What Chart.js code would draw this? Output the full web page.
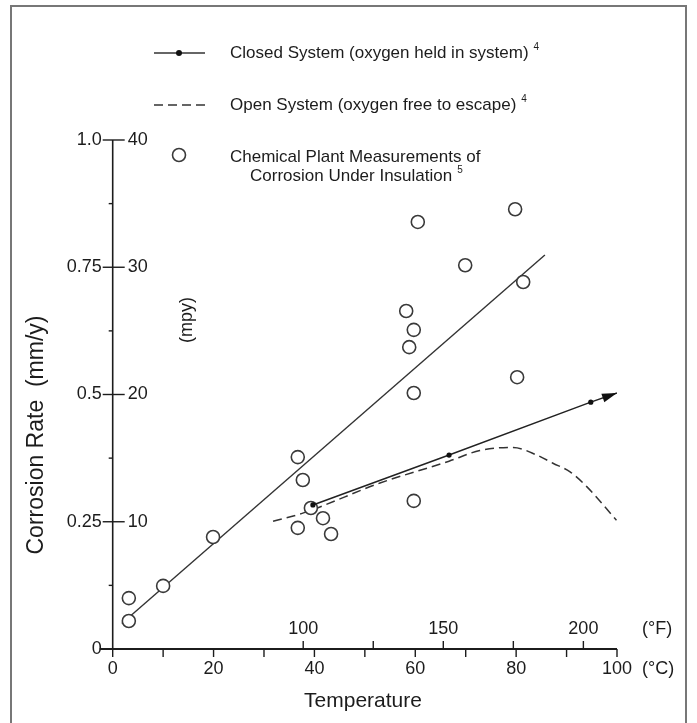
<!DOCTYPE html>
<html>
<head>
<meta charset="utf-8">
<script src="https://cdn.jsdelivr.net/npm/chart.js@4.4.1/dist/chart.umd.min.js"></script>
<style>
  html, body { margin: 0; padding: 0; background: #fff; }
  canvas { display: block; }
</style>
</head>
<body>
<canvas id="corrosionChart" width="697" height="723"></canvas>
<script>
// Chemical plant measurements of corrosion under insulation (°C, mm/y)
const plantTemp = [3.2, 3.2, 10.0, 19.9, 36.7, 37.7, 39.3, 36.7, 41.7, 43.3, 60.5, 58.2, 59.7, 58.8, 59.7, 59.7, 69.9, 79.8, 81.4, 80.2];
const plantRate = [0.100, 0.055, 0.124, 0.220, 0.377, 0.332, 0.277, 0.238, 0.257, 0.226, 0.839, 0.664, 0.627, 0.593, 0.503, 0.291, 0.754, 0.864, 0.721, 0.534];

// straight line through the plant data
const fitTemp = [1.8, 85.7];
const fitRate = [0.050, 0.774];

// closed system (oxygen held in system)
const closedTemp = [39.7, 66.7, 94.8, 100];
const closedRate = [0.283, 0.381, 0.485, 0.503];

// open system (oxygen free to escape)
const openTemp = [31.8, 37.7, 53.0, 66.7, 72.8, 79.4, 84.1, 87.3, 90.7, 94.0, 97.0, 99.9];
const openRate = [0.251, 0.267, 0.326, 0.369, 0.390, 0.396, 0.381, 0.365, 0.348, 0.319, 0.286, 0.253];

// tick labels
const mmyTicks = ['0', '0.25', '0.5', '0.75', '1.0'];
const mpyTicks = ['', '10', '20', '30', '40'];
const celsiusTicks = ['0', '20', '40', '60', '80', '100'];
const fahrenheitTicks = [100, 150, 200];

const FONT = "'Liberation Sans', Arial, Helvetica, sans-serif";
const INK = '#1c1c1c';
const toPts = (xs, ys) => xs.map((x, i) => ({ x: x, y: ys[i] }));
const fToC = f => (f - 32) * 5 / 9;

const decor = {
    id: 'decor',
    beforeDraw(chart) {
        const ctx = chart.ctx;
        ctx.save();
        ctx.fillStyle = '#fff';
        ctx.fillRect(0, 0, chart.width, chart.height);
        ctx.restore();
    },
    afterDraw(chart) {
        const ctx = chart.ctx;
        const xs = chart.scales.x, ys = chart.scales.y;
        const ax = xs.getPixelForValue(0);
        const ay = ys.getPixelForValue(0);
        ctx.save();

        // outer frame
        ctx.strokeStyle = '#777';
        ctx.lineWidth = 2;
        ctx.beginPath();
        ctx.moveTo(11, 740); ctx.lineTo(11, 6); ctx.lineTo(686, 6); ctx.lineTo(686, 740);
        ctx.stroke();

        // axes
        ctx.strokeStyle = INK;
        ctx.lineWidth = 1.6;
        ctx.beginPath();
        ctx.moveTo(ax, ys.getPixelForValue(1)); ctx.lineTo(ax, ay);
        ctx.stroke();
        ctx.lineWidth = 2.2;
        ctx.beginPath();
        ctx.moveTo(ax - 13, ay); ctx.lineTo(xs.getPixelForValue(100), ay);
        ctx.stroke();

        // y ticks
        ctx.lineWidth = 1.4;
        for (let i = 1; i < mmyTicks.length; i++) {
            const y = ys.getPixelForValue(i * 0.25);
            ctx.beginPath(); ctx.moveTo(ax - 10, y); ctx.lineTo(ax + 12, y); ctx.stroke();
        }
        for (let i = 0; i < 4; i++) {
            const y = ys.getPixelForValue(0.125 + i * 0.25);
            ctx.beginPath(); ctx.moveTo(ax - 4, y); ctx.lineTo(ax, y); ctx.stroke();
        }
        // x ticks (°C below, °F above)
        for (let c = 0; c <= 100; c += 10) {
            const x = xs.getPixelForValue(c);
            ctx.beginPath(); ctx.moveTo(x, ay); ctx.lineTo(x, ay + 8); ctx.stroke();
        }
        for (let f = 100; f <= 200; f += 25) {
            const x = xs.getPixelForValue(fToC(f));
            ctx.beginPath(); ctx.moveTo(x, ay); ctx.lineTo(x, ay - 8); ctx.stroke();
        }

        // mpy labels inside the axis
        ctx.fillStyle = INK;
        ctx.font = '18px ' + FONT;
        ctx.textBaseline = 'middle';
        ctx.textAlign = 'left';
        mpyTicks.forEach((t, i) => { if (t) ctx.fillText(t, ax + 15, ys.getPixelForValue(i * 0.25)); });

        // °F labels
        ctx.textAlign = 'center';
        fahrenheitTicks.forEach(f => ctx.fillText(String(f), xs.getPixelForValue(fToC(f)), ay - 20));
        ctx.textAlign = 'left';
        ctx.fillText('(°F)', 642, ay - 20);
        ctx.fillText('(°C)', 642, ay + 20);

        // axis titles
        ctx.font = '21px ' + FONT;
        ctx.textAlign = 'center';
        ctx.fillText('Temperature', 363, 701);
        ctx.save();
        ctx.translate(37, 435);
        ctx.rotate(-Math.PI / 2);
        ctx.font = '23px ' + FONT;
        ctx.fillText('Corrosion Rate  (mm/y)', 0, 0);
        ctx.restore();
        ctx.save();
        ctx.translate(187, 320);
        ctx.rotate(-Math.PI / 2);
        ctx.font = '18px ' + FONT;
        ctx.fillText('(mpy)', 0, 0);
        ctx.restore();

        // arrowhead on closed system line
        const pts = chart.getDatasetMeta(1).data;
        const tip = pts[pts.length - 1], prev = pts[pts.length - 2];
        const ang = Math.atan2(tip.y - prev.y, tip.x - prev.x);
        ctx.fillStyle = '#111';
        ctx.beginPath();
        ctx.moveTo(tip.x, tip.y);
        ctx.lineTo(tip.x - 15 * Math.cos(ang) + 4.5 * Math.sin(ang), tip.y - 15 * Math.sin(ang) - 4.5 * Math.cos(ang));
        ctx.lineTo(tip.x - 15 * Math.cos(ang) - 4.5 * Math.sin(ang), tip.y - 15 * Math.sin(ang) + 4.5 * Math.cos(ang));
        ctx.closePath();
        ctx.fill();

        // legend
        ctx.strokeStyle = '#333';
        ctx.lineWidth = 1.5;
        ctx.beginPath(); ctx.moveTo(154, 53); ctx.lineTo(205, 53); ctx.stroke();
        ctx.fillStyle = '#111';
        ctx.beginPath(); ctx.arc(179, 53, 3, 0, Math.PI * 2); ctx.fill();
        ctx.setLineDash([9, 5]);
        ctx.beginPath(); ctx.moveTo(154, 105); ctx.lineTo(206, 105); ctx.stroke();
        ctx.setLineDash([]);
        ctx.strokeStyle = '#3a3a3a';
        ctx.lineWidth = 1.6;
        ctx.beginPath(); ctx.arc(179, 155, 6.5, 0, Math.PI * 2); ctx.stroke();

        ctx.fillStyle = INK;
        ctx.textAlign = 'left';
        const rows = [
            ['Closed System (oxygen held in system)', 230, 53, '4'],
            ['Open System (oxygen free to escape)', 230, 105, '4'],
            ['Chemical Plant Measurements of', 230, 157, ''],
            ['Corrosion Under Insulation', 250, 176, '5']
        ];
        rows.forEach(r => {
            ctx.font = '17px ' + FONT;
            ctx.fillText(r[0], r[1], r[2]);
            if (r[3]) {
                const w = ctx.measureText(r[0]).width;
                ctx.font = '10px ' + FONT;
                ctx.fillText(r[3], r[1] + w + 5, r[2] - 6);
            }
        });
        ctx.restore();
    }
};

new Chart(document.getElementById('corrosionChart'), {
    type: 'scatter',
    data: {
        datasets: [
            {
                label: 'Plant measurements',
                data: toPts(plantTemp, plantRate),
                pointStyle: 'circle',
                pointRadius: 6.5,
                pointBorderWidth: 1.6,
                pointBorderColor: '#3a3a3a',
                pointBackgroundColor: '#fff',
                order: 1
            },
            {
                label: 'Closed System',
                type: 'line',
                data: toPts(closedTemp, closedRate),
                borderColor: '#222',
                borderWidth: 1.5,
                pointRadius: [2.6, 2.6, 2.6, 0],
                pointBackgroundColor: '#111',
                pointBorderWidth: 0,
                fill: false,
                order: 0
            },
            {
                label: 'Fit',
                type: 'line',
                data: toPts(fitTemp, fitRate),
                borderColor: '#333',
                borderWidth: 1.4,
                pointRadius: 0,
                fill: false,
                order: 2
            },
            {
                label: 'Open System',
                type: 'line',
                data: toPts(openTemp, openRate),
                borderColor: '#333',
                borderWidth: 1.5,
                borderDash: [9, 5],
                cubicInterpolationMode: 'monotone',
                pointRadius: 0,
                fill: false,
                order: 3
            }
        ]
    },
    options: {
        responsive: false,
        animation: false,
        devicePixelRatio: 1,
        layout: { padding: { left: 0, right: 80, top: 140, bottom: 0 } },
        scales: {
            x: {
                type: 'linear',
                min: 0, max: 100,
                afterFit: s => { s.height = 74; },
                grid: { display: false, drawTicks: false },
                border: { display: false },
                ticks: {
                    stepSize: 20,
                    padding: 9,
                    color: INK,
                    font: { family: FONT, size: 18 },
                    callback: (v, i) => celsiusTicks[i]
                }
            },
            y: {
                type: 'linear',
                min: 0, max: 1,
                afterFit: s => { s.width = 112.7; },
                grid: { display: false, drawTicks: false },
                border: { display: false },
                ticks: {
                    stepSize: 0.25,
                    padding: 11,
                    color: INK,
                    font: { family: FONT, size: 18 },
                    callback: (v, i) => mmyTicks[i]
                }
            }
        },
        plugins: {
            legend: { display: false },
            tooltip: { enabled: false }
        }
    },
    plugins: [decor]
});
</script>
</body>
</html>
